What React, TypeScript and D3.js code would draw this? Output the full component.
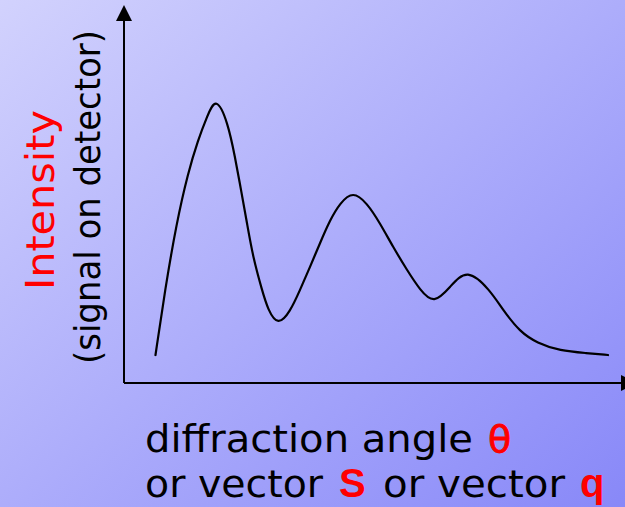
import React from "react";
import * as d3 from "d3";

const W = 625;
const H = 507;

// angle (arbitrary units) and intensity (arbitrary units)
const angle = [6.3, 8.2, 10.5, 12.8, 14.8, 16.6, 18.4, 20.8, 22.2, 23.4, 24.6, 25.8, 27.6, 28.8, 30.8, 33.2, 35.2, 37.2, 39.2, 41.2, 43.2, 45.8, 48.6, 51.2, 53.8, 56.6, 59.2, 62.0, 65.2, 68.6, 73.2, 75.8, 79.2, 82.6, 87.2, 92.6, 96.8];
const intensity = [7.4, 24.6, 42.3, 55.6, 64.3, 70.4, 76.0, 68.8, 59.8, 51.1, 42.3, 33.3, 24.6, 19.3, 15.1, 18.8, 24.6, 30.7, 37.0, 43.1, 47.6, 50.8, 47.6, 42.3, 36.0, 29.9, 24.6, 20.8, 25.4, 30.5, 24.6, 19.3, 13.5, 10.6, 8.5, 7.9, 7.4];

const yTitle = "Intensity";
const ySubtitle = "(signal on detector)";
const xLine1 = ["diffraction angle", "θ"];
const xLine2 = ["or vector", "S", "or vector", "q"];

export default function App() {
  const x0 = 124;
  const y0 = 383;
  const x = d3.scaleLinear().domain([0, 100]).range([x0, x0 + 500]);
  const y = d3.scaleLinear().domain([0, 100]).range([y0, y0 - 378]);
  const pts: [number, number][] = angle.map((a, i) => [a, intensity[i]]);
  const line = d3
    .line<[number, number]>()
    .x((d) => x(d[0]))
    .y((d) => y(d[1]))
    .curve(d3.curveBasis);

  const font = "'DejaVu Sans', sans-serif";
  const bold = "'Liberation Sans', Arial, sans-serif";
  return (
    <svg
      width={W}
      height={H}
      style={{ position: "absolute", left: 0, top: 0, display: "block" }}
    >
      <defs>
        <linearGradient id="bg" x1="0" y1="0" x2="1" y2="1">
          <stop offset="0%" stopColor="#d2d2fd" />
          <stop offset="50%" stopColor="#adadfb" />
          <stop offset="100%" stopColor="#8888f8" />
        </linearGradient>
      </defs>
      <rect x={0} y={0} width={W} height={H} fill="url(#bg)" />

      {/* axes */}
      <line x1={x0} y1={y0} x2={x0} y2={18} stroke="#000" strokeWidth={2} />
      <path d={`M${x0},5 L${x0 - 8},21 L${x0 + 8},21 Z`} fill="#000" />
      <line x1={x0} y1={y0} x2={622} y2={y0} stroke="#000" strokeWidth={2} />
      <path d={`M637,${y0} L621,${y0 - 8} L621,${y0 + 8} Z`} fill="#000" />

      {/* curve */}
      <path d={line(pts) || ""} fill="none" stroke="#000" strokeWidth={2.2} strokeLinejoin="round" strokeLinecap="round" />

      {/* y labels */}
      <text
        transform="translate(54,290) rotate(-90)"
        fontFamily={font}
        fontSize={39}
        fill="#ff0000"
        textLength={180}
        lengthAdjust="spacingAndGlyphs"
      >
        {yTitle}
      </text>
      <text
        transform="translate(100,364) rotate(-90)"
        fontFamily={font}
        fontSize={35}
        fill="#000"
        textLength={334}
        lengthAdjust="spacingAndGlyphs"
      >
        {ySubtitle}
      </text>

      {/* x labels */}
      <text x={145} y={452} fontFamily={font} fontSize={37} fill="#000" textLength={328} lengthAdjust="spacingAndGlyphs">
        {xLine1[0]}
      </text>
      <text x={488} y={452} fontFamily={font} fontSize={38} fill="#ff0000" stroke="#ff0000" strokeWidth={0.8}>
        {xLine1[1]}
      </text>
      <text x={145} y={497} fontFamily={font} fontSize={37} fill="#000" textLength={178} lengthAdjust="spacingAndGlyphs">
        {xLine2[0]}
      </text>
      <text x={339} y={497} fontFamily={bold} fontWeight="bold" fontSize={40} fill="#ff0000">
        {xLine2[1]}
      </text>
      <text x={383} y={497} fontFamily={font} fontSize={37} fill="#000" textLength={182} lengthAdjust="spacingAndGlyphs">
        {xLine2[2]}
      </text>
      <text x={580} y={497} fontFamily={bold} fontWeight="bold" fontSize={40} fill="#ff0000">
        {xLine2[3]}
      </text>
    </svg>
  );
}
